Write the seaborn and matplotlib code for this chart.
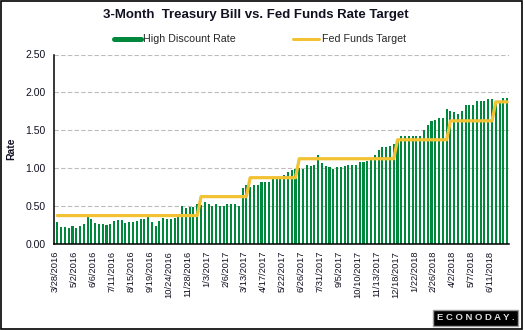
import numpy as np
import pandas as pd
import matplotlib
matplotlib.use("Agg")
import matplotlib.pyplot as plt
from matplotlib.lines import Line2D
from matplotlib.patches import Rectangle
import seaborn as sns

# ---------------- data ----------------
title = "3-Month  Treasury Bill vs. Fed Funds Rate Target"
series_bill = "High Discount Rate"
series_fed = "Fed Funds Target"
y_label = "Rate"

# weekly 3-month bill auction high discount rate, weeks starting 3/28/2016
bill_rate = [
    0.29, 0.23, 0.22, 0.21, 0.24, 0.21, 0.24, 0.27, 0.35, 0.33,
    0.28, 0.26, 0.26, 0.25, 0.26, 0.30, 0.32, 0.32, 0.28, 0.29,
    0.29, 0.30, 0.33, 0.33, 0.35, 0.29, 0.24, 0.30, 0.34, 0.33,
    0.33, 0.34, 0.39, 0.50, 0.47, 0.49, 0.49, 0.53, 0.51, 0.55,
    0.53, 0.50, 0.53, 0.50, 0.50, 0.53, 0.53, 0.53, 0.50, 0.74,
    0.78, 0.75, 0.78, 0.78, 0.82, 0.82, 0.82, 0.86, 0.89, 0.89,
    0.91, 0.95, 0.97, 0.99, 1.00, 0.99, 1.04, 1.03, 1.04, 1.17,
    1.07, 1.03, 1.01, 0.99, 1.01, 1.01, 1.03, 1.04, 1.04, 1.04,
    1.08, 1.08, 1.09, 1.11, 1.18, 1.24, 1.28, 1.28, 1.29, 1.32,
    1.36, 1.43, 1.43, 1.42, 1.42, 1.42, 1.42, 1.50, 1.57, 1.62,
    1.64, 1.66, 1.66, 1.78, 1.75, 1.74, 1.71, 1.75, 1.83, 1.83,
    1.83, 1.88, 1.89, 1.89, 1.91, 1.91, 1.89, 1.87, 1.93, 1.93,
]

# Fed funds target (midpoint) levels and the number of weeks at each level
fed_levels = [0.375, 0.625, 0.875, 1.125, 1.375, 1.625, 1.875]
fed_weeks = [38, 13, 13, 26, 14, 12, 4]

tick_labels = [
    "3/28/2016", "5/2/2016", "6/6/2016", "7/11/2016", "8/15/2016",
    "9/19/2016", "10/24/2016", "11/28/2016", "1/3/2017", "2/6/2017",
    "3/13/2017", "4/17/2017", "5/22/2017", "6/26/2017", "7/31/2017",
    "9/5/2017", "10/10/2017", "11/13/2017", "12/18/2017", "1/22/2018",
    "2/26/2018", "4/2/2018", "5/7/2018", "6/11/2018",
]
y_ticks = [0.0, 0.5, 1.0, 1.5, 2.0, 2.5]

# ---------------- style ----------------
GREEN = "#00893D"
YELLOW = "#F2C232"
GRID = "#BDBDBD"
TEXT = "#111122"

sns.set_style("white")
plt.rcParams["font.family"] = ["Liberation Sans", "DejaVu Sans"]

W, H = 525, 330
fig = plt.figure(figsize=(W / 100, H / 100), dpi=100)
fig.patch.set_facecolor("white")

L, R, T, B = 54, 509, 54.5, 244
ax = fig.add_axes([L / W, 1 - B / H, (R - L) / W, (B - T) / H])

n = len(bill_rate)
idx = np.arange(n)
fed_target = np.repeat(fed_levels, fed_weeks)

df = pd.DataFrame({"week": idx, "rate": bill_rate, "fed": fed_target})

sns.barplot(data=df, x="week", y="rate", color=GREEN, saturation=1,
            width=0.55, linewidth=0, ax=ax, native_scale=True, zorder=2)
sns.lineplot(data=df, x="week", y="fed", color=YELLOW, linewidth=2.3,
             ax=ax, zorder=3)

# axes
ax.set_xlim(-0.9, n - 0.5)
ax.set_ylim(0, 2.5)
tick_pos = [5 * k - 0.5 for k in range(len(tick_labels))] + [n - 0.5]
ax.set_xticks(tick_pos)
ax.set_xticklabels(tick_labels + [""], rotation=90, fontsize=6.7)
ax.set_yticks(y_ticks)
ax.set_yticklabels([f"{v:.2f}" for v in y_ticks], fontsize=7.5)
ax.tick_params(axis="x", direction="inout", length=6, width=1,
               color="black", pad=2, labelcolor=TEXT)
ax.tick_params(axis="y", direction="inout", length=8, width=1,
               color="black", pad=2, labelcolor=TEXT)
ax.set_xlabel("")
ax.set_ylabel(y_label, fontsize=7.5, fontweight="bold", color=TEXT)
ax.yaxis.set_label_coords((16 - L) / (R - L), 0.5)

ax.yaxis.grid(True, linestyle=(0, (4, 2)), color=GRID, linewidth=0.8)
ax.xaxis.grid(False)
ax.set_axisbelow(True)
for s in ["top", "right"]:
    ax.spines[s].set_visible(False)
for s in ["left", "bottom"]:
    ax.spines[s].set_color("black")
    ax.spines[s].set_linewidth(1.1)

# title
fig.text(256 / W, 1 - 15 / H, title, ha="center", va="center",
         fontsize=9.5, fontweight="bold", color=TEXT)

# legend
handles = [Line2D([], [], color=GREEN, lw=3.6),
           Line2D([], [], color=YELLOW, lw=2.2)]
ax.legend(handles, [series_bill, series_fed], loc="center",
          bbox_to_anchor=(260 / W, 1 - 39.5 / H),
          bbox_transform=fig.transFigure, ncol=2, frameon=False,
          fontsize=7.7, handlelength=2.5, handletextpad=0.2,
          columnspacing=5.3, borderpad=0)

# logo
fig.text(475.5 / W, 1 - 318 / H, "E C O N O D A Y .", ha="center", va="center",
         fontsize=6.8, fontweight="bold", color="#DDDDDD",
         bbox=dict(boxstyle="square,pad=0.35", fc="black", ec="#9A9A9A", lw=1))

# outer frame
fig.patches.append(Rectangle((0.5 / W, 1 / H), 521.5 / W, 328.5 / H,
                             transform=fig.transFigure, fill=False,
                             ec="black", lw=1.2))

fig.savefig("out.png", dpi=100)
